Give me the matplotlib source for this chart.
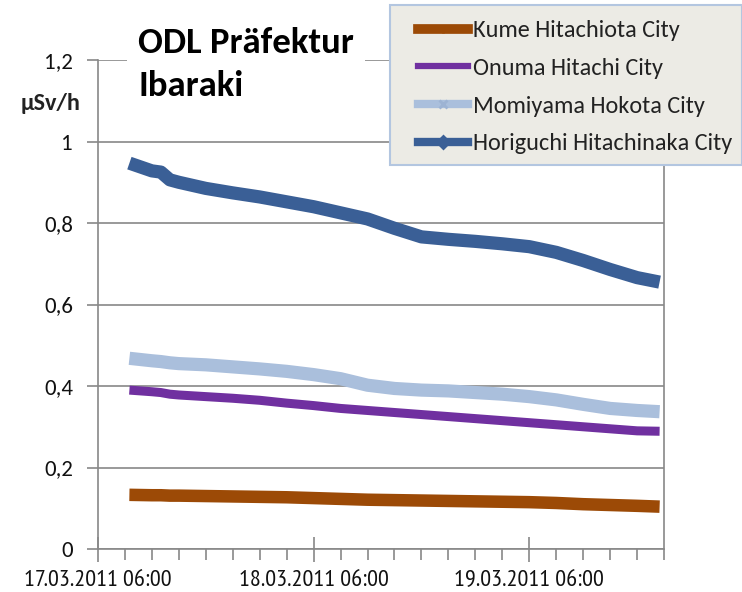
import matplotlib
matplotlib.use("Agg")
import matplotlib.pyplot as plt
import matplotlib.dates as mdates
from matplotlib.ticker import FuncFormatter, MultipleLocator
from matplotlib.lines import Line2D
from matplotlib.patches import Rectangle
import pandas as pd

# measurement times (17.03.2011 - 19.03.2011)
times = ["2011-03-17 09:30", "2011-03-17 12:00", "2011-03-17 13:00", "2011-03-17 14:00",
         "2011-03-17 15:00", "2011-03-17 18:00", "2011-03-17 21:00", "2011-03-18 00:00",
         "2011-03-18 03:00", "2011-03-18 06:00", "2011-03-18 09:00", "2011-03-18 12:00",
         "2011-03-18 15:00", "2011-03-18 18:00", "2011-03-18 21:00", "2011-03-19 00:00",
         "2011-03-19 03:00", "2011-03-19 06:00", "2011-03-19 09:00", "2011-03-19 12:00",
         "2011-03-19 15:00", "2011-03-19 18:00", "2011-03-19 20:30"]

kume = [0.133, 0.132, 0.132, 0.131, 0.131, 0.130, 0.129, 0.128, 0.127, 0.125, 0.123, 0.121,
        0.120, 0.119, 0.118, 0.117, 0.116, 0.115, 0.113, 0.110, 0.108, 0.106, 0.104]
onuma = [0.390, 0.386, 0.384, 0.380, 0.378, 0.374, 0.370, 0.365, 0.358, 0.352, 0.345, 0.340,
         0.335, 0.330, 0.325, 0.320, 0.315, 0.310, 0.305, 0.300, 0.295, 0.290, 0.289]
momiyama = [0.468, 0.462, 0.460, 0.457, 0.455, 0.452, 0.447, 0.442, 0.436, 0.428, 0.418, 0.402,
            0.394, 0.390, 0.388, 0.384, 0.380, 0.374, 0.366, 0.355, 0.345, 0.340, 0.337]
horiguchi = [0.947, 0.928, 0.925, 0.906, 0.900, 0.885, 0.874, 0.864, 0.852, 0.840, 0.825, 0.810,
             0.787, 0.766, 0.760, 0.755, 0.749, 0.742, 0.728, 0.708, 0.686, 0.666, 0.655]

labels = ["Kume Hitachiota City", "Onuma Hitachi City",
          "Momiyama Hokota City", "Horiguchi Hitachinaka City"]
colors = ["#9C4A06", "#7030A0", "#AABFDC", "#3A5F96"]
widths = [9, 6.5, 9.5, 9.5]
markers = ["+", "_", "x", "D"]

t = pd.to_datetime(times)

plt.rcParams["font.family"] = ["Carlito", "Lato", "DejaVu Sans"]

fig = plt.figure(figsize=(7.42, 5.92), dpi=100)
ax = fig.add_axes([0.132, 0.0726, 0.763, 0.826])

for vals, c, w, lab in zip([kume, onuma, momiyama, horiguchi], colors, widths, labels):
    ax.plot(t, vals, color=c, lw=w, label=lab, solid_capstyle="butt")

ax.set_ylim(0, 1.2)
ax.set_xlim(pd.Timestamp("2011-03-17 06:00"), pd.Timestamp("2011-03-19 21:00"))
ax.yaxis.set_major_locator(MultipleLocator(0.2))
ax.yaxis.set_major_formatter(FuncFormatter(lambda v, p: f"{v:.1f}".replace(".", ",").replace(",0", "")))
ax.grid(axis="y", color="#888888", lw=1.2)
ax.set_axisbelow(True)

ax.xaxis.set_major_locator(mdates.HourLocator(byhour=[6]))
ax.xaxis.set_minor_locator(mdates.HourLocator(interval=3))
ax.xaxis.set_major_formatter(FuncFormatter(lambda v, p: mdates.num2date(v).strftime("%d.%m.%Y %H:%M")))

for s in ["left", "bottom", "right"]:
    ax.spines[s].set_color("#888888")
    ax.spines[s].set_linewidth(1.2)
ax.spines["top"].set_visible(False)

ax.tick_params(axis="y", length=8, color="#888888", width=1.2, labelsize=16.5, pad=10, labelcolor="#111111")
ax.tick_params(axis="x", which="major", direction="inout", length=18, color="#888888", width=1.2,
               labelsize=17.5, pad=6, labelcolor="#111111")
ax.tick_params(axis="x", which="minor", length=8, color="#888888", width=1.2)
for lab in ax.get_xticklabels():
    lab.set_fontfamily(["PT Sans Narrow", "Roboto Condensed", "Lato"])

fig.text(0.028, 0.826, "\u00b5Sv/h", fontsize=17.5, fontweight="bold", color="#222222", va="center")

fig.text(0.186, 0.955, "ODL Präfektur\nIbaraki", fontsize=26.5, fontweight="bold", va="top",
         linespacing=1.45, color="black",
         bbox=dict(facecolor="white", edgecolor="none", pad=8))

# legend box
fig.patches.append(Rectangle((390 / 742, 1 - 165 / 592), 352 / 742, 160 / 592,
                             transform=fig.transFigure, facecolor="#ECEBE5",
                             edgecolor="#B3C6E0", lw=1.5, zorder=5))
handles = [Line2D([], [], color=c, lw=w, marker=m, ms=6, mew=2,
                  mfc=c, mec=c if i != 2 else "#9DB3D3")
           for i, (c, w, m) in enumerate(zip(colors, [7, 4.5, 6, 6], markers))]
leg = fig.legend(handles, labels, loc="upper left", bbox_to_anchor=(418 / 742, 1 - 20 / 592),
                 fontsize=17.5, handlelength=2.06, handletextpad=0.2, labelspacing=0.69,
                 borderpad=0, borderaxespad=0, frameon=False)
leg.set_zorder(6)
for txt in leg.get_texts():
    txt.set_color("#222222")

fig.savefig("out.png", dpi=100)
